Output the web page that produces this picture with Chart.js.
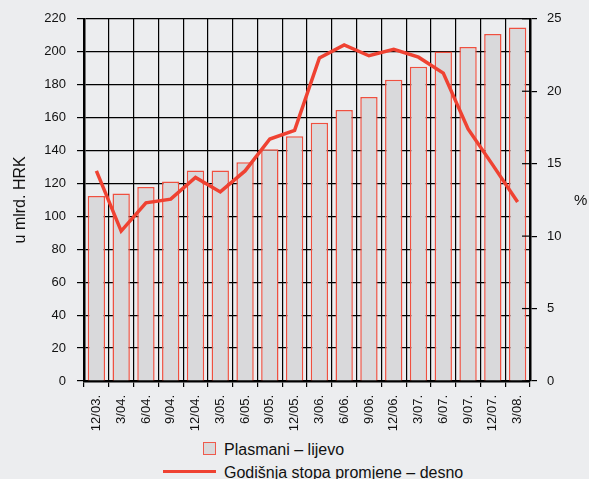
<!DOCTYPE html>
<html>
<head>
<meta charset="utf-8">
<script src="https://cdn.jsdelivr.net/npm/chart.js@4/dist/chart.umd.min.js"></script>
<style>
  body { margin: 0; background: #ecedef; font-family: "Liberation Sans", Arial, sans-serif; color: #111; }
  #wrap { position: relative; width: 589px; height: 479px; overflow: hidden; }
  #chart { position: absolute; left: 0; top: 0; }
  .pct { position: absolute; left: 574px; top: 191px; font-size: 15px; }
  .leg-box { position: absolute; left: 203px; top: 442px; width: 11px; height: 11px; background: #d9d9db; border: 1.5px solid #ef5a4c; }
  .leg-line { position: absolute; left: 163px; top: 470px; width: 53px; height: 3px; background: #ef4232; }
  .leg-text { position: absolute; left: 224px; font-size: 16px; white-space: nowrap; }
</style>
</head>
<body>
<div id="wrap">
  <canvas id="chart" width="589" height="440"></canvas>
  <div class="pct">%</div>
  <div class="leg-box"></div>
  <div class="leg-text" style="top: 441px;">Plasmani – lijevo</div>
  <div class="leg-line"></div>
  <div class="leg-text" style="top: 464px;">Godišnja stopa promjene – desno</div>
</div>
<script>
const labels = ['12/03.', '3/04.', '6/04.', '9/04.', '12/04.', '3/05.', '6/05.', '9/05.', '12/05.',
                '3/06.', '6/06.', '9/06.', '12/06.', '3/07.', '6/07.', '9/07.', '12/07.', '3/08.'];
// plasmani, mlrd. HRK (lijeva os)
const plasmani = [112.3, 113.9, 117.8, 121.2, 127.8, 127.8, 132.9, 140.8, 148.7,
                  156.8, 164.6, 172.5, 183.0, 190.9, 200.2, 202.8, 210.7, 214.7];
// godisnja stopa promjene, % (desna os)
const stopa = [14.5, 10.35, 12.3, 12.55, 14.05, 13.05, 14.5, 16.7, 17.3,
               22.3, 23.2, 22.45, 22.9, 22.35, 21.25, 17.4, 14.9, 12.35];

const tickFont = { family: '"Liberation Sans", Arial, sans-serif', size: 13 };

// short tick marks on the inner side of the right axis
const innerTicks = {
    id: 'innerTicks',
    afterDraw(chart) {
        const s = chart.scales.y1;
        const ctx = chart.ctx;
        const right = chart.chartArea.right;
        ctx.save();
        ctx.strokeStyle = '#000';
        ctx.lineWidth = 1.2;
        s.ticks.forEach(t => {
            const y = s.getPixelForValue(t.value);
            ctx.beginPath();
            ctx.moveTo(right - 8, y);
            ctx.lineTo(right, y);
            ctx.stroke();
        });
        ctx.restore();
    }
};

new Chart(document.getElementById('chart'), {
    data: {
        labels: labels,
        datasets: [
            {
                type: 'line',
                label: 'Godišnja stopa promjene – desno',
                data: stopa,
                yAxisID: 'y1',
                borderColor: '#ef4232',
                borderWidth: 3.5,
                pointRadius: 0,
                tension: 0,
                order: 0
            },
            {
                type: 'bar',
                label: 'Plasmani – lijevo',
                data: plasmani,
                yAxisID: 'y',
                backgroundColor: '#d9d9db',
                borderColor: '#ef5040',
                borderWidth: 1.5,
                barPercentage: 0.7,
                categoryPercentage: 1,
                order: 1
            }
        ]
    },
    options: {
        responsive: false,
        animation: false,
        layout: { padding: { top: 18, left: 0, right: 0, bottom: 0 } },
        plugins: {
            legend: { display: false },
            tooltip: { enabled: false }
        },
        scales: {
            x: {
                grid: { offset: true, color: '#000', lineWidth: 1.2, tickLength: 6 },
                border: { color: '#000', width: 2.5 },
                ticks: { font: tickFont, color: '#111', minRotation: 90, maxRotation: 90, autoSkip: false, padding: 8 },
                afterFit(scale) { scale.height = 59; }
            },
            y: {
                position: 'left',
                min: 0,
                max: 220,
                grid: { color: '#000', lineWidth: 1.2, tickLength: 7 },
                border: { color: '#000', width: 2.5 },
                ticks: { stepSize: 20, font: tickFont, color: '#111', padding: 11 },
                title: {
                    display: true,
                    text: 'u mlrd. HRK',
                    color: '#111',
                    font: { family: '"Liberation Sans", Arial, sans-serif', size: 16 },
                    padding: { top: 11, bottom: 0 }
                },
                afterFit(scale) { scale.width = 84; }
            },
            y1: {
                position: 'right',
                min: 0,
                max: 25,
                grid: { drawOnChartArea: false, color: '#000', lineWidth: 1.2, tickLength: 7 },
                border: { color: '#000', width: 2.5 },
                ticks: { stepSize: 5, font: tickFont, color: '#111', padding: 10 },
                afterFit(scale) { scale.width = 59; }
            }
        }
    },
    plugins: [innerTicks]
});
</script>
</body>
</html>
